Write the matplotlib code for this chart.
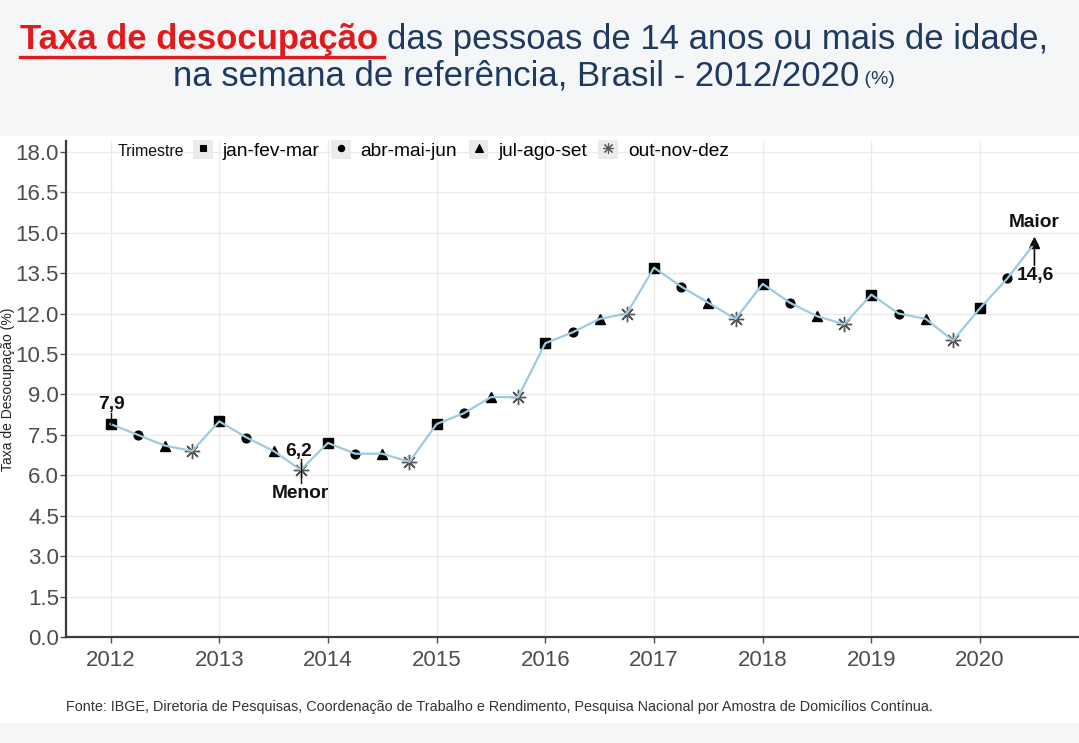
import matplotlib
matplotlib.use("Agg")
import matplotlib.pyplot as plt
import numpy as np
from matplotlib.lines import Line2D
from matplotlib.patches import Rectangle
from matplotlib.legend_handler import HandlerTuple

plt.rcParams['font.family'] = ['Liberation Sans', 'DejaVu Sans']

# quarterly unemployment rate, 2012Q1 .. 2020Q3
anos = [2012, 2013, 2014, 2015, 2016, 2017, 2018, 2019, 2020]
taxa = [7.9, 7.5, 7.1, 6.9,
        8.0, 7.4, 6.9, 6.2,
        7.2, 6.8, 6.8, 6.5,
        7.9, 8.3, 8.9, 8.9,
        10.9, 11.3, 11.8, 12.0,
        13.7, 13.0, 12.4, 11.8,
        13.1, 12.4, 11.9, 11.6,
        12.7, 12.0, 11.8, 11.0,
        12.2, 13.3, 14.6]
trimestres = ["jan-fev-mar", "abr-mai-jun", "jul-ago-set", "out-nov-dez"]
yticks = [0.0, 1.5, 3.0, 4.5, 6.0, 7.5, 9.0, 10.5, 12.0, 13.5, 15.0, 16.5, 18.0]

x = np.array([anos[0] + i / 4 for i in range(len(taxa))])
y = np.array(taxa)
q = np.arange(len(taxa)) % 4

bg = "#f5f6f8"
fig = plt.figure(figsize=(10.79, 7.43), dpi=100, facecolor=bg)
# white panel behind the chart
fig.patches.append(Rectangle((0, 1 - 723 / 743), 1, (723 - 136) / 743,
                             transform=fig.transFigure, fc="white", ec="none", zorder=-5))

ax = fig.add_axes([66 / 1079, 1 - 637 / 743, 1 - 66 / 1079, (637 - 141) / 743])
ax.set_facecolor("white")

marcadores = ['s', 'o', '^', (8, 2, 0)]
tamanhos = [6.8, 6.3, 7.8, 11]
cores = ['black', 'black', 'black', '#555555']
handles = []
for k in range(4):
    m = q == k
    ax.plot(x[m], y[m], ls='', marker=marcadores[k], ms=tamanhos[k], color=cores[k],
            mec=cores[k], mew=1.0, zorder=3)
    key = Rectangle((0, 0), 1, 1, fc="#ebebeb", ec="none")
    mk = Line2D([], [], ls='', marker=marcadores[k], ms=tamanhos[k] * 0.72,
                color=cores[k], mec=cores[k], mew=0.8)
    handles.append((key, mk))
ax.plot(x, y, color="#9ecae1", lw=1.6, zorder=4)

ax.set_xlim(2011.59, 2020.91)
ax.set_ylim(0, 18.4)
ax.set_xticks(anos)
ax.set_yticks(yticks)
ax.set_yticklabels([f"{v:.1f}" for v in yticks])
ax.grid(True, color="#ebebeb", lw=1.0)
ax.set_axisbelow(True)
for s in ['top', 'right']:
    ax.spines[s].set_visible(False)
for s in ['left', 'bottom']:
    ax.spines[s].set_color("#3c3c3c")
    ax.spines[s].set_linewidth(1.6)
ax.tick_params(axis='both', colors="#4d4d4d", length=4, width=1)
ax.tick_params(axis='x', labelsize=16, pad=5)
ax.tick_params(axis='y', labelsize=16, pad=1)
ax.set_ylabel("Taxa de Desocupação (%)", fontsize=10, color="#222222")
ax.yaxis.set_label_coords(-0.05, 0.5)

# annotations
bold = dict(fontsize=13.8, fontweight='bold', color='#111111', ha='center', va='center')
ax.text(2012.01, 8.62, "7,9", **bold)
ax.plot([2012, 2012], [8.3, 7.9], color='#111111', lw=1.0, zorder=5)
ax.text(2013.73, 6.88, "6,2", **bold)
ax.plot([2013.75, 2013.75], [6.62, 5.72], color='#111111', lw=1.0, zorder=5)
ax.text(2013.75, 5.32, "Menor", **bold)
ax.text(2020.5, 15.39, "Maior", **bold)
ax.annotate("", xy=(2020.5, 14.85), xytext=(2020.5, 13.79),
            arrowprops=dict(arrowstyle='-|>', color='#111111', lw=1.2,
                            mutation_scale=12, shrinkA=0, shrinkB=0), zorder=6)
ax.text(2020.51, 13.42, "14,6", **bold)

# legend
leg = fig.legend(handles, trimestres, handler_map={tuple: HandlerTuple(ndivide=1)},
                 loc='center left', bbox_to_anchor=(193 / 1079, 1 - 150 / 743),
                 ncol=4, frameon=False, fontsize=13.8, handlelength=1.04,
                 handleheight=1.15, handletextpad=0.5, columnspacing=0.6,
                 borderaxespad=0, borderpad=0)
fig.text(118 / 1079, 1 - 151 / 743, "Trimestre", fontsize=11.4, color='#111111',
         ha='left', va='center')

# title: mixed colours on line 1
fig.canvas.draw()
r = fig.canvas.get_renderer()
t1 = fig.text(0, 1 - 40 / 743, "Taxa de desocupação ", fontsize=25, fontweight='bold',
              color='#e31a1c', ha='left', va='center')
t2 = fig.text(0, 1 - 40 / 743, "das pessoas de 14 anos ou mais de idade,", fontsize=25,
              color='#1f3a60', ha='left', va='center')
w1 = t1.get_window_extent(r).width
w2 = t2.get_window_extent(r).width
x0 = 534 - (w1 + w2) / 2
t1.set_x(x0 / 1079)
t2.set_x((x0 + w1) / 1079)
fig.add_artist(Line2D([x0 / 1079, (x0 + w1 - 3) / 1079], [1 - 57 / 743, 1 - 57 / 743],
                      color='#e31a1c', lw=2.4, transform=fig.transFigure))

t3 = fig.text(0, 1 - 76 / 743, "na semana de referência, Brasil - 2012/2020", fontsize=25,
              color='#1f3a60', ha='left', va='center')
t4 = fig.text(0, 1 - 79 / 743, " (%)", fontsize=14, color='#1f3a60', ha='left', va='center')
w3 = t3.get_window_extent(r).width
w4 = t4.get_window_extent(r).width
x1 = 534 - (w3 + w4) / 2
t3.set_x(x1 / 1079)
t4.set_x((x1 + w3) / 1079)

fig.text(66 / 1079, 1 - 707 / 743,
         "Fonte: IBGE, Diretoria de Pesquisas, Coordenação de Trabalho e Rendimento, "
         "Pesquisa Nacional por Amostra de Domicílios Contínua.",
         fontsize=10.4, color='#333333', ha='left', va='center')

fig.savefig("out.png", dpi=100, facecolor=bg)
